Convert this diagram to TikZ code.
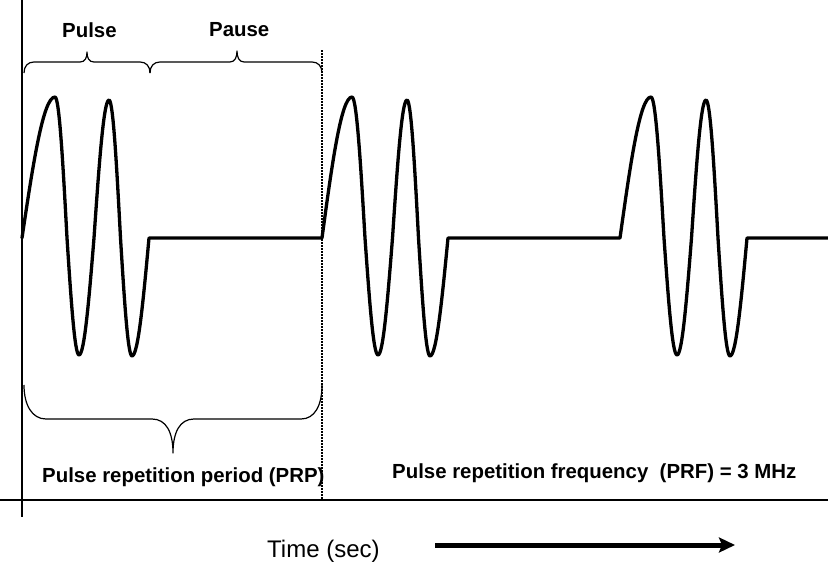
\documentclass[tikz,border=0pt]{standalone}
\usepackage{fontspec}
\setmainfont{Liberation Sans}
\usetikzlibrary{arrows.meta}
\begin{document}
\begin{tikzpicture}[x=1pt,y=-1pt,
  wave/.style={line width=3.3pt,line join=round,line cap=round},
  bracestroke/.style={line width=1.2pt,line join=round},
  axis/.style={line width=2pt},
  lbl/.style={inner sep=0pt,anchor=base west,font=\fontsize{20.4}{24}\selectfont\bfseries},
  timelbl/.style={inner sep=0pt,anchor=base west,font=\fontsize{24}{28}\selectfont},
  sep/.style={line width=1.5pt,dash pattern=on 1.5pt off 1.5pt}]
\useasboundingbox (0,0) rectangle (828,562);
% axes
\draw[axis] (0,500) -- (828,500);
\draw[axis] (22,0) -- (22,517);
% period separator
\draw[sep] (322,50) -- (322,500);
% waveform
\draw[wave] (22,238) sin (55,97) cos (67,238) sin (79,355) cos (94,238) sin (109,100) cos (120.5,238) sin (132,356) cos (149,238)
  -- (322,238) sin (352,97) cos (365,238) sin (378,355) cos (392.5,238) sin (407,100) cos (418.5,238) sin (430,356) cos (448,238)
  -- (620,238) sin (651,97) cos (664,238) sin (677,355) cos (691.5,238) sin (706,100) cos (718,238) sin (730,356) cos (747,238)
  -- (828,238);
% top braces
\draw[bracestroke] (24,73) .. controls (24,66) and (28,62) .. (34,62) -- (80,62)
  .. controls (85,62) and (87,58) .. (87,52) .. controls (87,58) and (89,62) .. (94,62) -- (140,62)
  .. controls (146,62) and (150,66) .. (150,73);
\draw[bracestroke] (150,73) .. controls (150,66) and (154,62) .. (160,62) -- (230,62)
  .. controls (235,62) and (237,57) .. (237,51) .. controls (237,57) and (239,62) .. (244,62) -- (312,62)
  .. controls (318,62) and (322,66) .. (322,73);
% bottom brace
\draw[bracestroke] (24,385) .. controls (24,405) and (32,419) .. (46,419) -- (152,419)
  .. controls (166,419) and (173,432) .. (173,453) .. controls (173,432) and (180,419) .. (194,419) -- (301,419)
  .. controls (315,419) and (322,405) .. (322,385);
% labels
\node[lbl] (pulse) at (62,37) {Pulse};
\node[lbl] (pause) at (209,36) {Pause};
\node[lbl] (prp) at (42,482) {Pulse repetition period (PRP)};
\node[lbl] (prf) at (392,478) {Pulse repetition frequency\ \ (PRF) = 3 MHz};
\node[timelbl] (time) at (267,557) {Time (sec)};
% time arrow
\coordinate (ta) at (435,545);
\coordinate (tb) at (735,545);
\draw[line width=5pt,-{Stealth[length=16pt,width=15pt,inset=3pt]}] (ta) -- (tb);
\end{tikzpicture}
\end{document}
